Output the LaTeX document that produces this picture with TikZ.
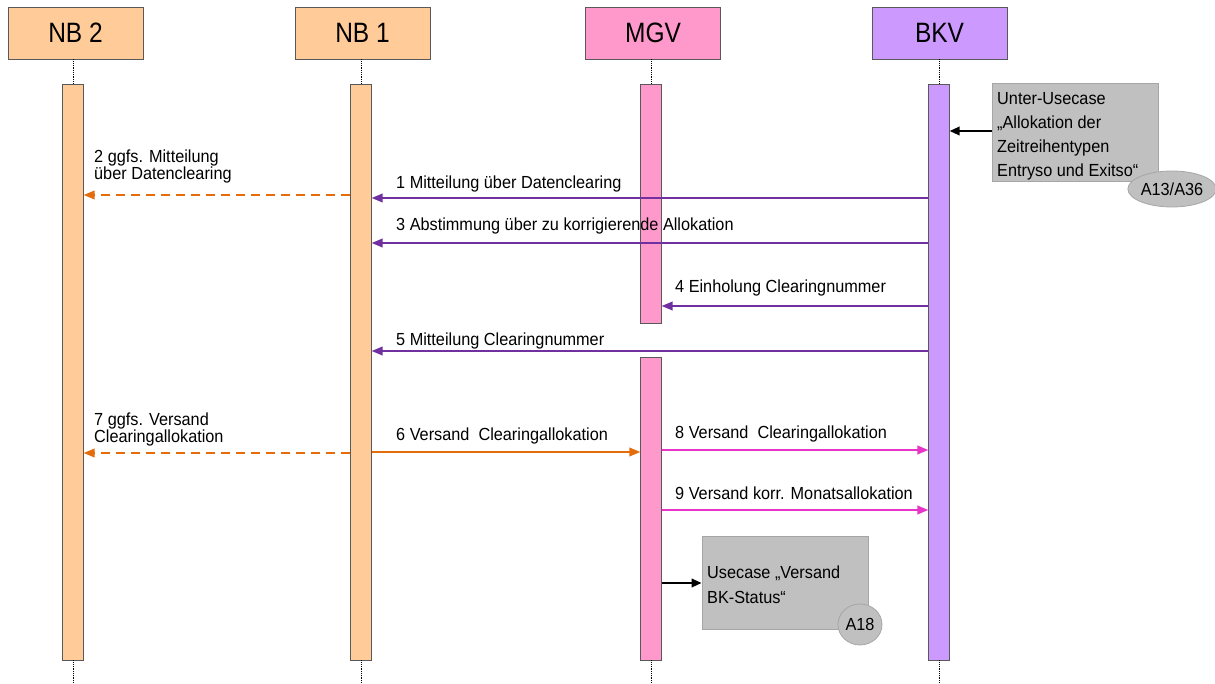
\documentclass[tikz,border=0pt]{standalone}
\usepackage{fontspec}
\setmainfont[FakeStretch=0.93]{Liberation Sans}
\newfontfamily\headfont[FakeStretch=0.875]{Liberation Sans}
\usetikzlibrary{arrows.meta,shapes.geometric}
\definecolor{nbfill}{HTML}{FFCC99}
\definecolor{mgvfill}{HTML}{FF99CC}
\definecolor{bkvfill}{HTML}{CC99FF}
\definecolor{purplearrow}{HTML}{7030A0}
\definecolor{orangearrow}{HTML}{E46C0A}
\definecolor{magentaarrow}{HTML}{E633C8}
\definecolor{boxgray}{HTML}{C0C0C0}
\definecolor{boxedge}{HTML}{A6A6A6}
\definecolor{edgedark}{HTML}{595959}
\tikzset{
  header/.style={draw=edgedark, line width=0.8pt, minimum width=135pt, minimum height=52pt, inner sep=0pt, font=\headfont\fontsize{28}{30}\selectfont},
  bar/.style={draw=edgedark, line width=0.7pt, minimum width=20.5pt, inner sep=0pt},
  life/.style={densely dotted, line width=0.8pt, black},
  msg/.style={line width=2pt, -{Triangle[length=11pt,width=8.5pt]}},
  dmsg/.style={msg, dash pattern=on 9pt off 6pt},
  lbl/.style={anchor=base west, inner sep=0pt, font=\fontsize{17.5}{16}\selectfont, align=left},
  usebox/.style={draw=boxedge, fill=boxgray, line width=0.8pt, inner sep=0pt},
  tag/.style={ellipse, draw=boxedge, fill=boxgray, line width=0.8pt, inner sep=0pt, font=\fontsize{17.5}{18}\selectfont},
  ptr/.style={line width=2pt, black, -{Triangle[length=10pt,width=8.5pt]}}
}
\begin{document}
\begin{tikzpicture}[x=1pt,y=-1pt]
\useasboundingbox (0,0) rectangle (1215,684);
% headers
\node[header, fill=nbfill]  (nb2h) at (75.5,33) {NB 2};
\node[header, fill=nbfill]  (nb1h) at (362.5,33) {NB 1};
\node[header, fill=mgvfill] (mgvh) at (653,33) {MGV};
\node[header, fill=bkvfill] (bkvh) at (939.5,33) {BKV};
% activation bars
\node[bar, fill=nbfill,  minimum height=576pt] (nb2b) at (73,372) {};
\node[bar, fill=nbfill,  minimum height=576pt] (nb1b) at (361,372) {};
\node[bar, fill=mgvfill, minimum height=239pt] (mgvbA) at (651,203.5) {};
\node[bar, fill=mgvfill, minimum height=303pt] (mgvbB) at (651,508.5) {};
\node[bar, fill=bkvfill, minimum height=576pt] (bkvb) at (939,372) {};
% lifelines
\coordinate (nb2end) at (73,684);
\coordinate (nb1end) at (361,684);
\coordinate (mgvend) at (651,684);
\coordinate (bkvend) at (939,684);
\draw[life] (nb2h.south -| nb2b.north) -- (nb2b.north);
\draw[life] (nb1h.south -| nb1b.north) -- (nb1b.north);
\draw[life] (mgvh.south -| mgvbA.north) -- (mgvbA.north);
\draw[life] (bkvh.south -| bkvb.north) -- (bkvb.north);
\draw[life] (nb2b.south) -- (nb2end);
\draw[life] (nb1b.south) -- (nb1end);
\draw[life] (mgvbB.south) -- (mgvend);
\draw[life] (bkvb.south) -- (bkvend);
% messages
\draw[msg, purplearrow]  (bkvb.west |- 0,198) -- (nb1b.east |- 0,198);
\draw[dmsg, orangearrow] (nb1b.west |- 0,195) -- (nb2b.east |- 0,195);
\draw[msg, purplearrow]  (bkvb.west |- 0,243) -- (nb1b.east |- 0,243);
\draw[msg, purplearrow]  (bkvb.west |- 0,306) -- (mgvbA.east |- 0,306);
\draw[msg, purplearrow]  (bkvb.west |- 0,351) -- (nb1b.east |- 0,351);
\draw[msg, orangearrow]  (nb1b.east |- 0,452) -- (mgvbB.west |- 0,452);
\draw[dmsg, orangearrow] (nb1b.west |- 0,453) -- (nb2b.east |- 0,453);
\draw[msg, magentaarrow] (mgvbB.east |- 0,450) -- (bkvb.west |- 0,450);
\draw[msg, magentaarrow] (mgvbB.east |- 0,510) -- (bkvb.west |- 0,510);
% labels
\node[lbl] (l1) at (396,189) {1 Mitteilung über Datenclearing};
\node[lbl] (l2) at (94,179.5) {2 ggfs. Mitteilung\\über Datenclearing};
\node[lbl] (l3) at (396,231) {3 Abstimmung über zu korrigierende Allokation};
\node[lbl] (l4) at (675,293) {4 Einholung Clearingnummer};
\node[lbl] (l5) at (396,345.5) {5 Mitteilung Clearingnummer};
\node[lbl] (l6) at (396,440) {6 Versand\ \ Clearingallokation};
\node[lbl] (l7) at (94,442.5) {7 ggfs. Versand\\Clearingallokation};
\node[lbl] (l8) at (675,438) {8 Versand\ \ Clearingallokation};
\node[lbl] (l9) at (675,499.5) {9 Versand korr. Monatsallokation};
% use case boxes
\node[usebox, minimum width=166pt, minimum height=98pt] (uc1) at (1075,132) {};
\node[anchor=north west, inner sep=0pt, align=left, font=\fontsize{17.5}{24}\selectfont] (uc1t) at (997,92) {Unter-Usecase\\„Allokation der\\Zeitreihentypen\\Entryso und Exitso“};
\node[tag, minimum width=76pt, minimum height=36pt] (a13) at (1172,189) {A13/A36};
\draw[ptr] (uc1.west |- 0,131) -- (bkvb.east |- 0,131);
\node[usebox, minimum width=166pt, minimum height=93pt] (uc2) at (785,582.5) {};
\node[anchor=north west, inner sep=0pt, align=left, font=\fontsize{17.5}{25}\selectfont] (uc2t) at (707,566) {Usecase „Versand\\BK-Status“};
\node[tag, minimum width=44pt, minimum height=41pt] (a18) at (860,624.5) {A18};
\draw[ptr] (mgvbB.east |- 0,583) -- (uc2.west |- 0,583);
\end{tikzpicture}
\end{document}
